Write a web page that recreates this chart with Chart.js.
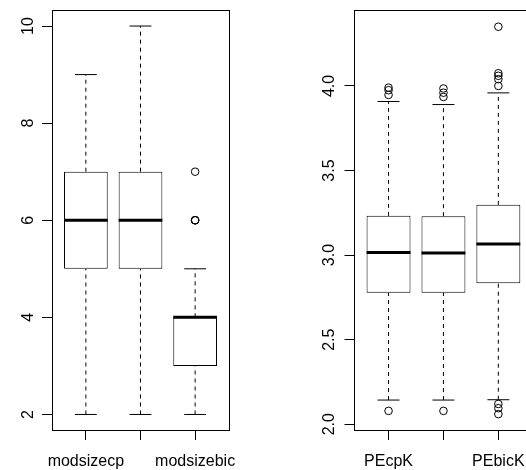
<!DOCTYPE html>
<html>
<head>
<meta charset="utf-8">
<script src="https://cdn.jsdelivr.net/npm/chart.js@4.4.1/dist/chart.umd.min.js"></script>
<style>
html,body{margin:0;padding:0;overflow:hidden;background:#fff;width:526px;height:470px;}
#wrap{position:relative;width:526px;height:470px;overflow:hidden;}
canvas{position:absolute;top:0;}
#c1{left:0;}
#c2{left:263px;}
</style>
</head>
<body>
<div id="wrap">
<canvas id="c1" width="263" height="470"></canvas>
<canvas id="c2" width="300" height="470"></canvas>
</div>
<script>
// ---- Left panel data (model size) ----
const sizeCategories = ['modsizecp', '', 'modsizebic'];
const sizeLowWhisker = [2, 2, 2];
const sizeQ1 = [5, 5, 3];
const sizeMedian = [6, 6, 4];
const sizeQ3 = [7, 7, 4];
const sizeHighWhisker = [9, 10, 5];
const sizeOutliers = [[], [], [6, 6, 6, 7]];
const sizeTicks = [2, 4, 6, 8, 10];
const sizeTickLabels = ['2', '4', '6', '8', '10'];

// ---- Right panel data (prediction error) ----
const peCategories = ['PEcpK', '', 'PEbicK'];
const peLowWhisker = [2.143, 2.143, 2.145];
const peQ1 = [2.777, 2.777, 2.834];
const peMedian = [3.015, 3.013, 3.065];
const peQ3 = [3.232, 3.230, 3.297];
const peHighWhisker = [3.908, 3.890, 3.959];
const peOutliers = [[3.99, 3.975, 3.947, 2.079], [3.985, 3.96, 3.935, 2.079], [4.35, 4.075, 4.06, 4.04, 4.0, 2.12, 2.095, 2.06]];
const peTicks = [2.0, 2.5, 3.0, 3.5, 4.0];
const peTickLabels = ['2.0', '2.5', '3.0', '3.5', '4.0'];

const FONT = {family: '"Liberation Sans", Arial, Helvetica, sans-serif', size: 16};

function frameAxis(pos, mn, mx) {
  return {
    type: 'linear', position: pos, min: mn, max: mx, offset: false,
    grid: {display: false, drawTicks: false},
    border: {display: true, color: '#000', width: 1},
    ticks: {display: false},
    afterFit: s => { if (pos === 'top') { s.height = 0; } else { s.width = 0; } s.paddingLeft = s.paddingRight = s.paddingTop = s.paddingBottom = 0; }
  };
}

function buildChart(canvasId, cats, lo, q1, med, q3, hi, outl, ticks, tickLabels, yMin, yMax, pad, yWidth, yPad) {
  const n = cats.length;
  const boxes = [], whiskers = [], caps = [], medians = [], points = [];
  for (let i = 0; i < n; i++) {
    const x = i + 1;
    boxes.push({x: x, y: [q1[i], q3[i]]});
    whiskers.push({x: x, y: lo[i]}, {x: x, y: q1[i]}, {x: x, y: null});
    whiskers.push({x: x, y: q3[i]}, {x: x, y: hi[i]}, {x: x, y: null});
    caps.push({x: x - 0.2, y: lo[i]}, {x: x + 0.2, y: lo[i]}, {x: x, y: null});
    caps.push({x: x - 0.2, y: hi[i]}, {x: x + 0.2, y: hi[i]}, {x: x, y: null});
    medians.push({x: x - 0.4, y: med[i]}, {x: x + 0.4, y: med[i]}, {x: x, y: null});
    outl[i].forEach(v => points.push({x: x, y: v}));
  }
  const xMin = 0.5 - 0.04 * n, xMax = n + 0.5 + 0.04 * n;
  return new Chart(document.getElementById(canvasId), {
    type: 'bar',
    data: {
      datasets: [
        {type: 'bar', data: boxes, backgroundColor: '#fff', borderColor: '#000', borderWidth: 1,
         borderSkipped: false, inflateAmount: 0, barPercentage: 0.8, categoryPercentage: 1.0, order: 3},
        {type: 'line', data: whiskers, borderColor: '#000', borderWidth: 1, borderDash: [4, 4],
         pointRadius: 0, spanGaps: false, order: 2},
        {type: 'line', data: caps, borderColor: '#000', borderWidth: 1, pointRadius: 0, spanGaps: false, order: 2},
        {type: 'line', data: medians, borderColor: '#000', borderWidth: 3, borderCapStyle: 'butt',
         pointRadius: 0, spanGaps: false, order: 1},
        {type: 'scatter', data: points, pointStyle: 'circle', pointRadius: 3.8, borderWidth: 1,
         borderColor: '#000', backgroundColor: 'rgba(0,0,0,0)', order: 1}
      ]
    },
    options: {
      responsive: false,
      animation: false,
      events: [],
      layout: {padding: pad},
      plugins: {legend: {display: false}, tooltip: {enabled: false}},
      scales: {
        x: {
          type: 'linear', min: xMin, max: xMax, offset: false,
          afterBuildTicks: s => { s.ticks = cats.map((c, i) => ({value: i + 1})); },
          afterFit: s => { s.height = 40; s.paddingLeft = 0; s.paddingRight = 0; },
          grid: {display: true, offset: false, drawOnChartArea: false, drawTicks: true, tickLength: 10, color: '#000', lineWidth: 1},
          border: {display: true, color: '#000', width: 1},
          ticks: {font: FONT, color: '#000', padding: 12, maxRotation: 0, minRotation: 0, autoSkip: false,
                  callback: (v) => cats[Math.round(v) - 1] || ''}
        },
        y: {
          type: 'linear', min: yMin, max: yMax,
          afterBuildTicks: s => { s.ticks = ticks.map(v => ({value: v})); },
          afterFit: s => { s.width = yWidth; s.paddingTop = 0; s.paddingBottom = 0; },
          grid: {display: true, offset: false, drawOnChartArea: false, drawTicks: true, tickLength: 10, color: '#000', lineWidth: 1},
          border: {display: true, color: '#000', width: 1},
          ticks: {font: FONT, color: '#000', padding: yPad, minRotation: 90, maxRotation: 90, crossAlign: 'center',
                  autoSkip: false,
                  callback: (v) => { const k = ticks.findIndex(t => Math.abs(t - v) < 1e-9); return k >= 0 ? tickLabels[k] : ''; }}
        },
        xTop: frameAxis('top', xMin, xMax),
        yRight: frameAxis('right', yMin, yMax)
      }
    }
  });
}

buildChart('c1', sizeCategories, sizeLowWhisker, sizeQ1, sizeMedian, sizeQ3, sizeHighWhisker, sizeOutliers,
           sizeTicks, sizeTickLabels, 1.68, 10.32, {top: 10.5, left: 0, right: 34, bottom: 0}, 52, 4.5);
buildChart('c2', peCategories, peLowWhisker, peQ1, peMedian, peQ3, peHighWhisker, peOutliers,
           peTicks, peTickLabels, 1.966, 4.446, {top: 10.5, left: 0, right: 30.6, bottom: 0}, 91.5, 3.5);
</script>
</body>
</html>
